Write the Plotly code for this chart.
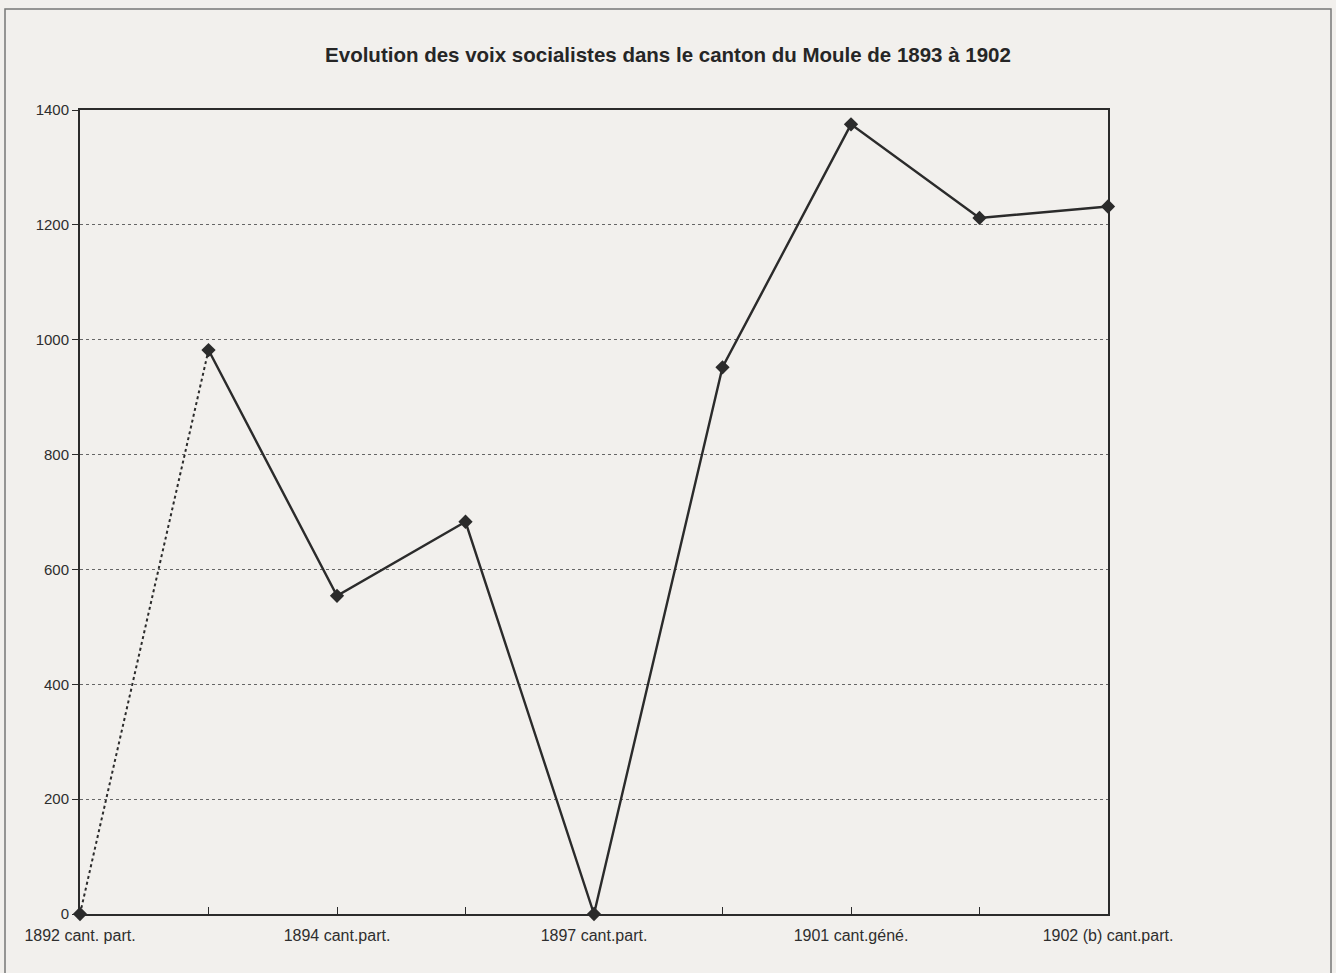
import plotly.graph_objects as go

# Election results (socialist votes), canton du Moule
categories = [
    "1892 cant. part.", "1893", "1894 cant.part.", "1895", "1897 cant.part.",
    "1898", "1901 cant.géné.", "1901b", "1902 (b) cant.part.",
]
votes = [0, 982, 554, 683, 0, 952, 1375, 1212, 1232]
tick_text = [
    "1892 cant. part.", "", "1894 cant.part.", "", "1897 cant.part.",
    "", "1901 cant.géné.", "", "1902 (b) cant.part.",
]
y_ticks = [0, 200, 400, 600, 800, 1000, 1200, 1400]

ink = "#2b2b2b"
bg = "#f2f0ed"
font = "Liberation Sans, Arial, sans-serif"

fig = go.Figure()

# first interval drawn dotted
fig.add_trace(go.Scatter(
    x=categories[:2], y=votes[:2], mode="lines",
    line=dict(color=ink, width=2, dash="dot"),
    showlegend=False, hoverinfo="skip",
))
# remaining results, solid line
fig.add_trace(go.Scatter(
    x=categories[1:], y=votes[1:], mode="lines",
    line=dict(color=ink, width=2.4),
    showlegend=False,
))
# diamond markers on every result
fig.add_trace(go.Scatter(
    x=categories, y=votes, mode="markers",
    marker=dict(symbol="diamond", size=11, color=ink),
    showlegend=False, cliponaxis=False,
))

fig.update_layout(
    width=1336, height=973,
    margin=dict(l=80, r=228, t=110, b=59),
    paper_bgcolor=bg, plot_bgcolor=bg,
    font=dict(family=font, size=15, color="#2e2e2e"),
    title=dict(
        text="<b>Evolution des voix socialistes dans le canton du Moule de 1893 à 1902</b>",
        x=0.5, xanchor="center", xref="container",
        y=1 - 55 / 973, yanchor="middle",
        font=dict(family=font, size=20.5, color="#262626"),
    ),
    xaxis=dict(
        type="category", categoryorder="array", categoryarray=categories,
        tickmode="array", tickvals=categories, ticktext=tick_text,
        range=[0, len(categories) - 1],
        showgrid=False, zeroline=False,
        showline=True, linecolor=ink, linewidth=2, mirror=True,
        ticks="inside", ticklen=7, tickcolor=ink, tickwidth=1,
        ticklabelstandoff=6,
        tickfont=dict(size=16, color="#2e2e2e"),
        fixedrange=True,
    ),
    yaxis=dict(
        range=[0, 1400], tickvals=y_ticks,
        showgrid=True, gridcolor="#666666", griddash="dot", gridwidth=1,
        zeroline=False,
        showline=True, linecolor=ink, linewidth=2, mirror=True,
        ticks="outside", ticklen=6, tickcolor=ink,
        tickfont=dict(size=15, color="#2e2e2e"),
        fixedrange=True,
    ),
    shapes=[dict(
        type="rect", xref="paper", yref="paper",
        x0=-75 / 1028, x1=(1331 - 80) / 1028,
        y0=-60 / 804, y1=(914 - 9) / 804,
        line=dict(color="#777777", width=1.5), fillcolor="rgba(0,0,0,0)",
        layer="below",
    )],
)

fig.write_html("out.html")
